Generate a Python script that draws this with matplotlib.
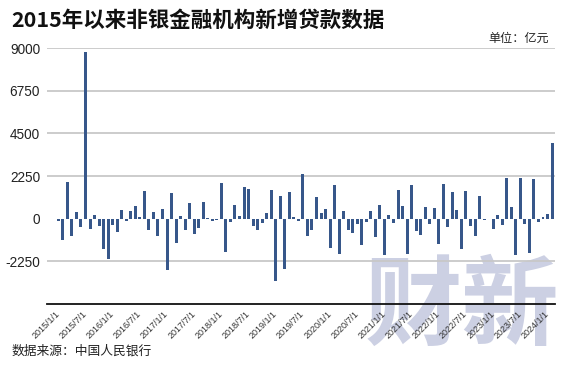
import matplotlib
matplotlib.use("Agg")
import matplotlib.pyplot as plt
import matplotlib.transforms as mtransforms
import numpy as np

plt.rcParams['font.family'] = ['Liberation Sans', 'Noto Sans CJK SC', 'DejaVu Sans']

# Monthly new loans to non-bank financial institutions (100 million yuan), 2015/1 - 2024/2
values = [
    -100, -1100, 1920, -920, 330, -440, 8800, -520, 175, -370, -1620, -2145,   # 2015
    -350, -680, 470, -100, 420, 645, 90, 1465, -610, 350, -890, 490,           # 2016
    -2720, 1340, -1270, 140, -575, 830, -785, -480, 890, 20, -100, -60,        # 2017
    1870, -1745, -175, 700, 155, 1660, 1570, -400, -575, -230, 300, 1500,      # 2018
    -3310, 1220, -2630, 1410, 70, -100, 2340, -925, -610, 1120, 300, 505,      # 2019
    -1535, 1760, -1880, 400, -610, -750, -260, -1410, -175, 385, -990, 700,    # 2020
    -1935, 210, -230, 1535, 645, -1850, 1780, -630, -855, 595, -300, 560,      # 2021
    -1360, 1815, -420, 1395, 470, -1590, 1480, -400, -905, 1170, -70, 0,       # 2022
    -520, 175, -330, 2145, 610, -1920, 2160, -300, -1800, 2090, -175, 90,      # 2023
    260, 4010,                                                                  # 2024
]
months = [f"{2015 + i // 12}/{i % 12 + 1}/1" for i in range(len(values))]
tick_labels = [m for i, m in enumerate(months) if i % 6 == 0]
y_ticks = [-2250, 0, 2250, 4500, 6750, 9000]
y_tick_labels = ["-2250", "0", "2250", "4500", "6750", "9000"]

W, H = 570, 373
fig = plt.figure(figsize=(W / 100, H / 100), dpi=100)

# watermark
fig.text(462 / W, 1 - 308 / H, "财新", family=['Noto Sans CJK SC'], fontweight='heavy',
         fontsize=70, color='#ccd0e3', ha='center', va='center', zorder=-5)

ax = fig.add_axes([47 / W, (H - 304) / H, (555 - 47) / W, (304 - 48) / H])
ax.patch.set_alpha(0)
x = np.arange(len(values))
ax.bar(x, values, width=0.66, color='#37578a', zorder=3)

ax.set_ylim(-4500, 9000)
ax.set_xlim(-2.5, len(values) - 0.35)
ax.set_yticks(y_ticks)
ax.set_yticklabels(y_tick_labels, fontsize=9.8, color='#222222')
for yv in y_ticks:
    if yv != 0:
        ax.axhline(yv, color='#c8c8c8', lw=1.3, zorder=1)

tick_pos = [i for i in range(len(values)) if i % 6 == 0]
ax.set_xticks(tick_pos)
ax.set_xticklabels(tick_labels, rotation=45, ha='right', va='center',
                   rotation_mode='anchor', fontsize=6.5, color='#333333')
offset = mtransforms.ScaledTranslation(10 / 100, 0, fig.dpi_scale_trans)
for lab in ax.get_xticklabels():
    lab.set_transform(lab.get_transform() + offset)
ax.tick_params(axis='both', length=0)
ax.tick_params(axis='x', pad=6)
ax.tick_params(axis='y', pad=5)
for s in ['top', 'right', 'left']:
    ax.spines[s].set_visible(False)
ax.spines['bottom'].set_color('#111111')
ax.spines['bottom'].set_linewidth(1.3)

fig.text(11 / W, 1 - 20 / H, "2015年以来非银金融机构新增贷款数据", family=['Noto Sans CJK SC'],
         fontweight='bold', fontsize=15.5, color='#111111', ha='left', va='center')
fig.text(549 / W, 1 - 38 / H, "单位：亿元", family=['Noto Sans CJK SC'],
         fontsize=8.7, color='#222222', ha='right', va='center')
fig.text(12 / W, 1 - 351 / H, "数据来源：中国人民银行", family=['Noto Sans CJK SC'],
         fontsize=9.2, color='#222222', ha='left', va='center')

fig.savefig("out.png", dpi=100)
